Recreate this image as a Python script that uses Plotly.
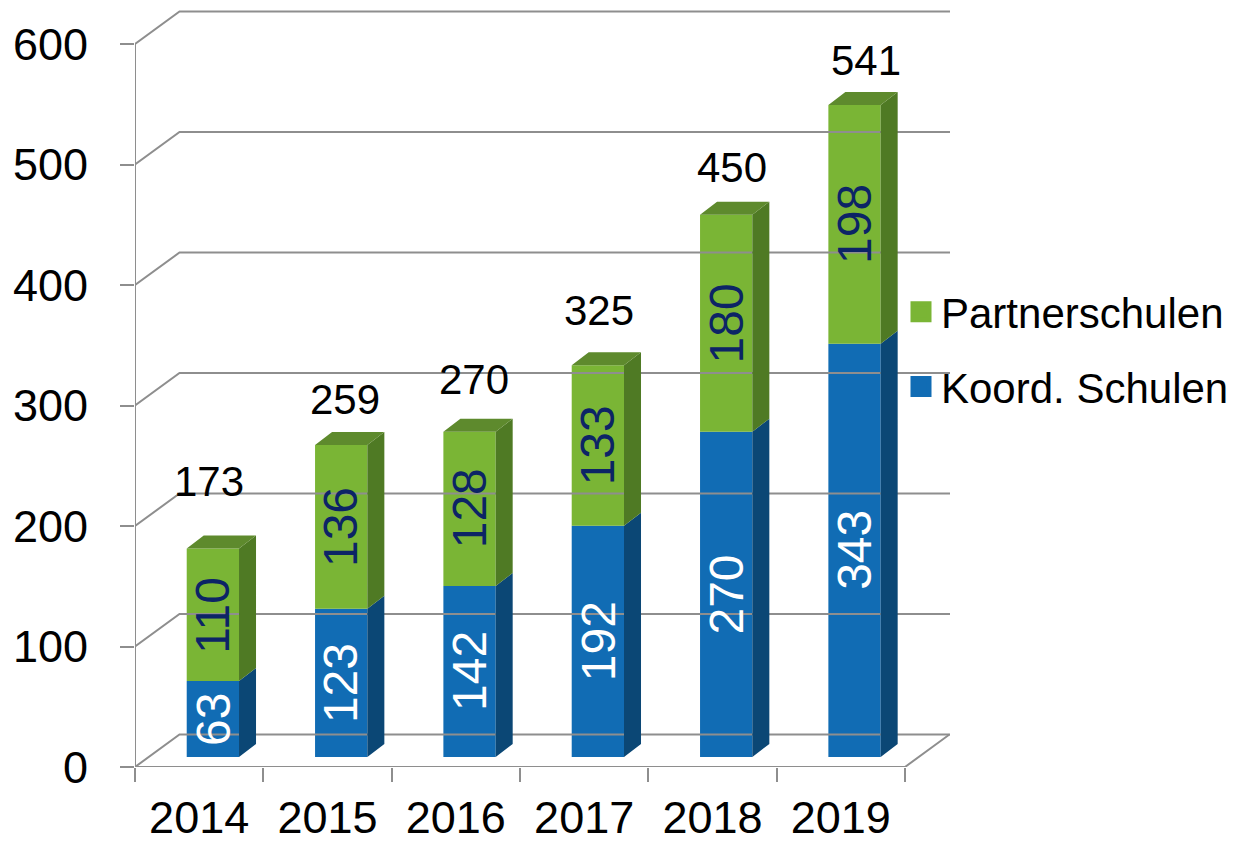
import plotly.graph_objects as go

# ---------------- data ----------------
YEARS = ["2014", "2015", "2016", "2017", "2018", "2019"]
KOORD = [63, 123, 142, 192, 270, 343]          # Koord. Schulen
PARTNER = [110, 136, 128, 133, 180, 198]       # Partnerschulen
TOTALS = [173, 259, 270, 325, 450, 541]
Y_TICKS = [0, 100, 200, 300, 400, 500, 600]

# ---------------- style / geometry ----------------
W, H = 1236, 843
ML, MR, MT, MB = 135, 286, 0, 76
PLOT_W = W - ML - MR
PLOT_H = H - MT - MB
CAT_PX = 128.33          # pixels per category
UNIT_PX = 1.205          # pixels per value unit
X_MAX = PLOT_W / CAT_PX
Y_MAX = PLOT_H / UNIT_PX


def px_x(p):
    return p / CAT_PX


def px_y(p):
    return p / UNIT_PX


WALL_DX, WALL_DY = px_x(44.5), px_y(32.5)
FRONT_DX, FRONT_DY = px_x(13.7), px_y(10)
SIDE_DX, SIDE_DY = px_x(17), px_y(13)
BAR_W = px_x(52.3)

BLUE = "#116CB4"
BLUE_SIDE = "#0B4775"
GREEN = "#7AB535"
GREEN_SIDE = "#4F7A24"
GREEN_TOP = "#5E8A2D"
NAVY = "#0C2466"
GRID = "#8E8E8E"
FONT = "Liberation Sans, Arial, sans-serif"

TOTAL_SHIFT_X = [-4, 4, 4, 1, 6, 11]
TOTAL_SHIFT_Y = [67, 45, 52, 55, 47, 45]

n = len(YEARS)
centers = [i + 0.5 + FRONT_DX for i in range(n)]

fig = go.Figure()

# back wall grid lines + left wall diagonals
gx, gy = [], []
for v in Y_TICKS:
    gx += [0, WALL_DX, X_MAX, None]
    gy += [v, v + WALL_DY, v + WALL_DY, None]
fig.add_trace(go.Scatter(x=gx, y=gy, mode="lines", line=dict(color=GRID, width=2),
                         hoverinfo="skip", showlegend=False, cliponaxis=False))

# front floor, right floor diagonal, left axis line
fx = [0, n, n + WALL_DX, None, 0, 0]
fy = [0, 0, WALL_DY, None, 0, Y_TICKS[-1]]
fig.add_trace(go.Scatter(x=fx, y=fy, mode="lines", line=dict(color=GRID, width=2),
                         hoverinfo="skip", showlegend=False, cliponaxis=False))

# front faces (bars)
fig.add_trace(go.Bar(x=centers, y=KOORD, base=[FRONT_DY] * n, width=BAR_W,
                     marker=dict(color=BLUE, line=dict(width=0)),
                     hoverinfo="skip", showlegend=False))
fig.add_trace(go.Bar(x=centers, y=PARTNER, base=[FRONT_DY + k for k in KOORD], width=BAR_W,
                     marker=dict(color=GREEN, line=dict(width=0)),
                     hoverinfo="skip", showlegend=False))


def side_poly(bottoms, tops):
    xs, ys = [], []
    for c, b, t in zip(centers, bottoms, tops):
        xr = c + BAR_W / 2
        xs += [xr, xr + SIDE_DX, xr + SIDE_DX, xr, xr, None]
        ys += [b, b + SIDE_DY, t + SIDE_DY, t, b, None]
    return xs, ys


bb = [FRONT_DY] * n
bt = [FRONT_DY + k for k in KOORD]
gt = [FRONT_DY + k + p for k, p in zip(KOORD, PARTNER)]

sx, sy = side_poly(bb, bt)
fig.add_trace(go.Scatter(x=sx, y=sy, mode="lines", fill="toself", fillcolor=BLUE_SIDE,
                         line=dict(width=0, color=BLUE_SIDE), hoverinfo="skip", showlegend=False))
sx, sy = side_poly(bt, gt)
fig.add_trace(go.Scatter(x=sx, y=sy, mode="lines", fill="toself", fillcolor=GREEN_SIDE,
                         line=dict(width=0, color=GREEN_SIDE), hoverinfo="skip", showlegend=False))

tx, ty = [], []
for c, t in zip(centers, gt):
    xl, xr = c - BAR_W / 2, c + BAR_W / 2
    tx += [xl, xl + SIDE_DX, xr + SIDE_DX, xr, xl, None]
    ty += [t, t + SIDE_DY, t + SIDE_DY, t, t, None]
fig.add_trace(go.Scatter(x=tx, y=ty, mode="lines", fill="toself", fillcolor=GREEN_TOP,
                         line=dict(width=0, color=GREEN_TOP), hoverinfo="skip", showlegend=False))

# legend entries
fig.add_trace(go.Scatter(x=[None], y=[None], mode="markers", name="Partnerschulen",
                         legendgroup="p",
                         marker=dict(symbol="square", size=16, color=GREEN,
                                     line=dict(width=5, color=GREEN))))
fig.add_trace(go.Scatter(x=[None], y=[None], mode="markers", name="Koord. Schulen",
                         legendgroup="k",
                         marker=dict(symbol="square", size=16, color=BLUE,
                                     line=dict(width=5, color=BLUE))))

annotations = []
for i in range(n):
    annotations.append(dict(x=centers[i], y=FRONT_DY + KOORD[i] / 2, text=str(KOORD[i]),
                            textangle=-90, showarrow=False, xanchor="center", yanchor="middle",
                            font=dict(size=48, color="white", family=FONT)))
    annotations.append(dict(x=centers[i], y=FRONT_DY + KOORD[i] + PARTNER[i] / 2, text=str(PARTNER[i]),
                            textangle=-90, showarrow=False, xanchor="center", yanchor="middle",
                            font=dict(size=48, color=NAVY, family=FONT)))
    annotations.append(dict(x=centers[i], y=FRONT_DY + TOTALS[i], text=str(TOTALS[i]),
                            showarrow=False, xanchor="center", yanchor="middle",
                            xshift=TOTAL_SHIFT_X[i], yshift=TOTAL_SHIFT_Y[i],
                            font=dict(size=42, color="black", family=FONT)))

fig.update_layout(
    width=W, height=H,
    margin=dict(l=ML, r=MR, t=MT, b=MB, pad=0, autoexpand=False),
    paper_bgcolor="white", plot_bgcolor="white",
    barmode="overlay",
    font=dict(family=FONT, color="black"),
    showlegend=True,
    legend=dict(x=(901 - ML) / PLOT_W, y=(PLOT_H - 278) / PLOT_H, xanchor="left", yanchor="top",
                font=dict(size=42, family=FONT, color="black"),
                traceorder="grouped", tracegroupgap=17, bgcolor="rgba(0,0,0,0)"),
    annotations=annotations,
    xaxis=dict(range=[0, X_MAX], tickvals=[i + 0.5 for i in range(n)], ticktext=YEARS,
               showgrid=False, zeroline=False, showline=False, automargin=False,
               ticks="", ticklabelstandoff=20,
               tickfont=dict(size=45, family=FONT, color="black"),
               minor=dict(tickmode="array", tickvals=list(range(n + 1)), ticks="outside",
                          ticklen=14, tickwidth=2, tickcolor=GRID, showgrid=False),
               fixedrange=True),
    yaxis=dict(range=[0, Y_MAX], tickvals=Y_TICKS, ticktext=[str(v) for v in Y_TICKS],
               showgrid=False, zeroline=False, showline=False, automargin=False,
               ticks="outside", ticklen=14, tickwidth=2, tickcolor=GRID,
               ticklabelstandoff=23,
               tickfont=dict(size=45, family=FONT, color="black"),
               fixedrange=True),
)

fig.write_html("out.html")
